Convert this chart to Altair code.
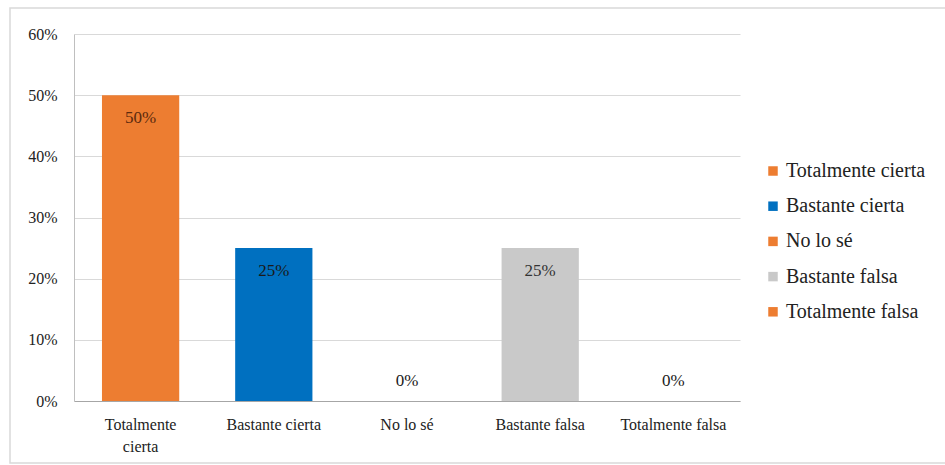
import altair as alt
import pandas as pd

categories = ["Totalmente cierta", "Bastante cierta", "No lo sé", "Bastante falsa", "Totalmente falsa"]
values = [0.50, 0.25, 0.0, 0.25, 0.0]
bar_colors = ["#ED7D31", "#0070C0", "#ED7D31", "#C9C9C9", "#ED7D31"]
label_colors = ["#5C2A0E", "#1A1A1A", "#1A1A1A", "#333333", "#1A1A1A"]
y_ticks = [0, 0.1, 0.2, 0.3, 0.4, 0.5, 0.6]

df = pd.DataFrame({
    "cat": categories,
    "val": values,
    "lab": [f"{round(v*100)}%" for v in values],
    "lcol": label_colors,
})

FONT = "Liberation Serif"
W, H = 666, 367

x_enc = alt.X("cat:N", sort=categories, title=None,
              scale=alt.Scale(paddingInner=0.42, paddingOuter=0.21),
              axis=alt.Axis(labelAngle=0, labelFontSize=16, labelFont=FONT, labelColor="#222222",
                            ticks=False, domainColor="#A6A6A6", labelPadding=15, labelLineHeight=22,
                            labelExpr="datum.label == 'Totalmente cierta' ? ['Totalmente', 'cierta'] : datum.label",
                            labelLimit=200))
y_enc = alt.Y("val:Q", title=None,
              scale=alt.Scale(domain=[0, 0.6], nice=False),
              axis=alt.Axis(values=y_ticks, format=".0%", labelFontSize=16, labelFont=FONT,
                            labelColor="#222222", ticks=False, domainColor="#BFBFBF",
                            gridColor="#D9D9D9", labelPadding=17))

base = alt.Chart(df)

bars = base.mark_bar().encode(
    x=x_enc,
    y=y_enc,
    color=alt.Color("cat:N", sort=categories,
                    scale=alt.Scale(domain=categories, range=bar_colors),
                    legend=alt.Legend(title=None, orient="none", legendX=689, legendY=127,
                                      symbolType="square", symbolSize=90, symbolStrokeWidth=0,
                                      labelFont=FONT, labelFontSize=20, labelColor="#222222",
                                      rowPadding=15.2, symbolOffset=0, labelOffset=3)),
)

text_in = base.transform_filter("datum.val > 0").mark_text(
    font=FONT, fontSize=17, baseline="middle", dy=23
).encode(
    x=alt.X("cat:N", sort=categories),
    y="val:Q",
    text="lab:N",
    color=alt.Color("lcol:N", scale=None),
)

text_zero = base.transform_filter("datum.val == 0").mark_text(
    font=FONT, fontSize=17, baseline="middle", dy=-20
).encode(
    x=alt.X("cat:N", sort=categories),
    y="val:Q",
    text="lab:N",
    color=alt.Color("lcol:N", scale=None),
)

border = alt.Chart(alt.Data(values=[{"b": 1}])).mark_rect(
    filled=False, stroke="#D9D9D9", strokeWidth=1.5, clip=False
).encode(
    x=alt.value(-64), x2=alt.value(890), y=alt.value(-26), y2=alt.value(429)
)

chart = alt.layer(border, bars, text_in, text_zero).properties(
    width=W, height=H,
    autosize=alt.AutoSizeParams(type="none"),
    padding={"left": 74, "top": 34, "right": 205, "bottom": 64},
    background="white",
).configure(font=FONT).configure_view(stroke=None).configure_axis(gridColor="#D9D9D9")

chart.save("out.html", embed_options={"renderer": "svg", "actions": False})
